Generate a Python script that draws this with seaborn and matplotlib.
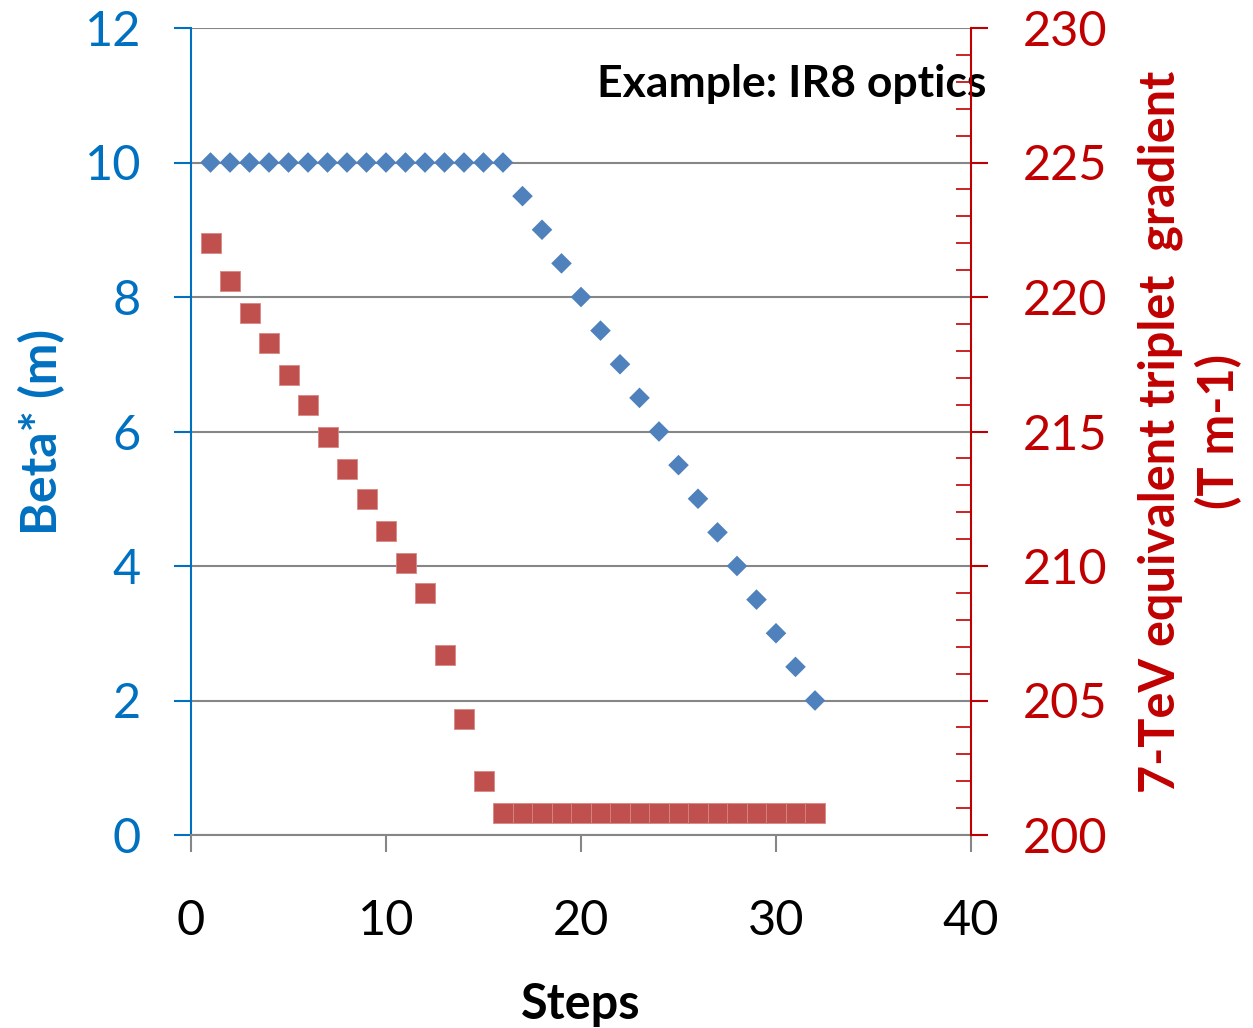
import numpy as np
import matplotlib
matplotlib.use("Agg")
import matplotlib.pyplot as plt
from matplotlib.ticker import MultipleLocator
import seaborn as sns
import pandas as pd

# data
steps = list(range(1, 33))
beta_star = [10.0] * 16 + [9.5, 9.0, 8.5, 8.0, 7.5, 7.0, 6.5, 6.0,
                           5.5, 5.0, 4.5, 4.0, 3.5, 3.0, 2.5, 2.0]
gradient = [222.0, 220.6, 219.4, 218.3, 217.1, 216.0, 214.8, 213.6,
            212.5, 211.3, 210.1, 209.0, 206.7, 204.3, 202.0] + [200.8] * 17

df = pd.DataFrame({"step": steps, "beta": beta_star, "grad": gradient})

sns.set_style("white")
plt.rcParams['font.family'] = ['Lato', 'DejaVu Sans']
plt.rcParams['text.color'] = 'black'

BLUE_TXT = "#0070C0"
BLUE_MK = "#4F81BD"
RED_TXT = "#C00000"
RED_MK = "#C0504D"
GRAY = "#868686"

fig = plt.figure(figsize=(12.53, 10.28), dpi=100)
ax = fig.add_axes([191 / 1253, 1 - 835 / 1028, 780 / 1253, 807 / 1028])
ax2 = ax.twinx()

sns.scatterplot(data=df, x="step", y="beta", ax=ax, marker="D", s=110,
                color=BLUE_MK, edgecolor="none", zorder=3)
sns.scatterplot(data=df, x="step", y="grad", ax=ax2, marker="s", s=195,
                color=RED_MK, edgecolor="#D98884", linewidth=0.6, zorder=3)

ax.set_xlim(0, 40)
ax.set_ylim(0, 12)
ax2.set_ylim(200, 230)
ax.xaxis.set_major_locator(MultipleLocator(10))
ax.yaxis.set_major_locator(MultipleLocator(2))
ax2.yaxis.set_major_locator(MultipleLocator(5))
ax2.yaxis.set_minor_locator(MultipleLocator(1))

ax.yaxis.grid(True, color=GRAY, lw=1.5)
ax.set_axisbelow(True)

ax.spines["top"].set_visible(False)
ax2.spines["top"].set_visible(False)
ax.spines["right"].set_visible(False)
ax2.spines["left"].set_visible(False)
ax2.spines["bottom"].set_visible(False)
ax.spines["left"].set_color(BLUE_TXT)
ax.spines["left"].set_linewidth(1.5)
ax.spines["bottom"].set_color(GRAY)
ax.spines["bottom"].set_linewidth(1.5)
ax2.spines["right"].set_color(RED_TXT)
ax2.spines["right"].set_linewidth(1.5)

ax.tick_params(axis="y", direction="out", length=12, width=1.5, color=BLUE_TXT,
               labelcolor=BLUE_TXT, labelsize=35, pad=24, left=True)
ax.tick_params(axis="x", direction="out", length=12, width=1.5, color=GRAY,
               labelcolor="black", labelsize=35, pad=34, bottom=True)
ax2.tick_params(axis="y", which="major", direction="out", length=12, width=1.5,
                color=RED_TXT, labelcolor=RED_TXT, labelsize=35, pad=25, right=True)
ax2.tick_params(axis="y", which="minor", direction="in", length=11, width=1.2,
                color=RED_TXT, right=True)

ax.set_xlabel("Steps", fontsize=35, fontweight="bold", color="black", labelpad=28)
ax.set_ylabel("Beta* (m)", fontsize=36, fontweight="bold", color=BLUE_TXT, labelpad=14)
ax2.set_ylabel("7-TeV equivalent triplet  gradient\n(T m-1)", fontsize=35,
               fontweight="bold", color=RED_TXT, labelpad=22, rotation=90,
               linespacing=1.3)

ax.text(1.02, 0.93, "Example: IR8 optics", transform=ax.transAxes,
        ha="right", va="center", fontsize=32, fontweight="bold", color="black",
        zorder=5)

fig.savefig("out.png", dpi=100)
